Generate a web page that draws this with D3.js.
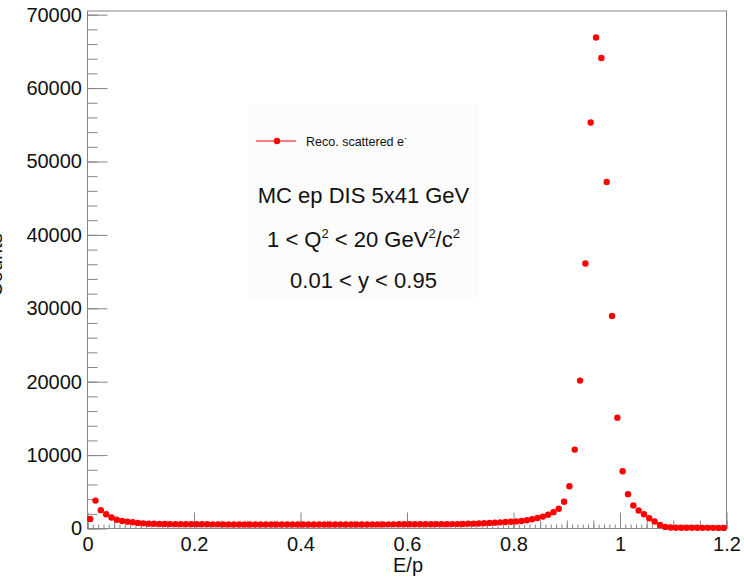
<!DOCTYPE html>
<html>
<head>
  <script src="https://d3js.org/d3.v7.min.js"></script>
  <style>
    body { margin: 0; background: #fff; }
    svg { display: block; font-family: "Liberation Sans", Arial, sans-serif; }
    .axis path, .axis line { stroke: #858585; }
    .axis text { fill: #111; font-size: 20px; font-family: "Liberation Sans", Arial, sans-serif; }
  </style>
</head>
<body>
  <svg width="744" height="577"></svg>
  <script>
    // histogram binning: 120 bins from 0 to 1.2
    var xMin = 0, xMax = 1.2, nBins = 120;

    // counts per bin
    var counts = [
      1300, 3800, 2500, 1950, 1500, 1200, 1020, 930, 850, 760,
      700, 660, 640, 620, 610, 600, 590, 590, 580, 580,
      575, 570, 570, 565, 565, 560, 560, 555, 555, 550,
      550, 545, 545, 545, 540, 540, 540, 540, 540, 540,
      540, 540, 540, 540, 545, 545, 545, 545, 550, 550,
      550, 555, 555, 560, 560, 560, 565, 565, 570, 570,
      575, 575, 580, 580, 585, 590, 590, 595, 600, 600,
      620, 640, 660, 690, 720, 760, 800, 840, 880, 920,
      970, 1030, 1120, 1250, 1430, 1620, 1880, 2230, 2700, 3650,
      5750, 10750, 20150, 36100, 55300, 66900, 64100, 47200, 28950, 15100,
      7800, 4680, 3150, 2450, 1950, 1400, 950, 480, 220, 130,
      110, 100, 100, 95, 95, 90, 90, 90, 85, 85
    ];

    var xTicks = [0, 0.2, 0.4, 0.6, 0.8, 1, 1.2];
    var yTicks = [0, 10000, 20000, 30000, 40000, 50000, 60000, 70000];
    var yMax = 70500;

    var legendLabel = "Reco. scattered e";
    var infoLines = ["MC ep DIS 5x41 GeV", "0.01 < y < 0.95"];

    var svg = d3.select("svg");
    var mLeft = 87.5, mRight = 726.5, mTop = 11, mBottom = 528.5;

    var x = d3.scaleLinear().domain([xMin, xMax]).range([mLeft, mRight]);
    var y = d3.scaleLinear().domain([0, yMax]).range([mBottom, mTop]);

    // frame
    svg.append("rect")
      .attr("x", mLeft).attr("y", mTop)
      .attr("width", mRight - mLeft).attr("height", mBottom - mTop)
      .attr("fill", "none").attr("stroke", "#858585");

    // x axis ticks (tertiary, secondary, primary) pointing inward
    var xg = svg.append("g").attr("class", "axis").attr("transform", "translate(0," + mBottom + ")");
    xg.append("g").call(d3.axisBottom(x).tickValues(d3.range(0, 121).map(function(i) { return i / 100; }))
      .tickSize(-4).tickFormat(""));
    xg.append("g").call(d3.axisBottom(x).tickValues(d3.range(0, 25).map(function(i) { return i * 0.05; }))
      .tickSize(-8).tickFormat(""));
    xg.append("g").call(d3.axisBottom(x).tickValues(xTicks).tickSize(-16).tickPadding(8.5)
      .tickFormat(function(d) { return String(+d.toFixed(1)); }));
    xg.selectAll(".domain").remove();

    // y axis
    var yg = svg.append("g").attr("class", "axis").attr("transform", "translate(" + mLeft + ",0)");
    yg.append("g").call(d3.axisLeft(y).tickValues(d3.range(0, 36).map(function(i) { return i * 2000; }))
      .tickSize(-10).tickFormat(""));
    yg.append("g").call(d3.axisLeft(y).tickValues(yTicks).tickSize(-20).tickPadding(5.5)
      .tickFormat(d3.format("d")));
    yg.selectAll(".domain").remove();

    // axis titles
    svg.append("text")
      .attr("x", 393).attr("y", 572)
      .attr("font-size", 20).attr("fill", "#111")
      .text("E/p");
    // y title sits mostly off the left edge, as in the original
    svg.append("text")
      .attr("transform", "translate(1.5,265) rotate(-90)")
      .attr("text-anchor", "middle")
      .attr("font-size", 20).attr("fill", "#111")
      .text("Counts");

    // info box
    svg.append("rect")
      .attr("x", 248).attr("y", 104).attr("width", 231).attr("height", 194)
      .attr("fill", "#fcfcfc");

    // legend entry
    svg.append("line")
      .attr("x1", 256).attr("x2", 296).attr("y1", 141).attr("y2", 141)
      .attr("stroke", "#ff0000").attr("stroke-width", 1);
    svg.append("circle")
      .attr("cx", 277).attr("cy", 141).attr("r", 3.2).attr("fill", "#ff0000");
    var lg = svg.append("text")
      .attr("x", 306).attr("y", 145.5)
      .attr("font-size", 12.5).attr("fill", "#111");
    lg.append("tspan").text(legendLabel);
    lg.append("tspan").attr("font-size", 8).attr("dy", -6).text("-");

    // text lines
    var cx = 363.5;
    svg.append("text")
      .attr("x", cx).attr("y", 203).attr("text-anchor", "middle")
      .attr("font-size", 22).attr("fill", "#111")
      .text(infoLines[0]);

    var q = svg.append("text")
      .attr("x", cx).attr("y", 247).attr("text-anchor", "middle")
      .attr("font-size", 22).attr("fill", "#111");
    q.append("tspan").text("1 < Q");
    q.append("tspan").attr("font-size", 13).attr("dy", -9).text("2");
    q.append("tspan").attr("dy", 9).text(" < 20 GeV");
    q.append("tspan").attr("font-size", 13).attr("dy", -9).text("2");
    q.append("tspan").attr("dy", 9).text("/c");
    q.append("tspan").attr("font-size", 13).attr("dy", -9).text("2");

    svg.append("text")
      .attr("x", cx).attr("y", 287.5).attr("text-anchor", "middle")
      .attr("font-size", 22).attr("fill", "#111")
      .text(infoLines[1]);

    // data points
    var binW = (xMax - xMin) / nBins;
    svg.append("g").selectAll("circle")
      .data(counts)
      .join("circle")
      .attr("cx", function(d, i) { return x(xMin + (i + 0.5) * binW); })
      .attr("cy", function(d) { return y(d); })
      .attr("r", 3.2)
      .attr("fill", "#ff0000");
  </script>
</body>
</html>
